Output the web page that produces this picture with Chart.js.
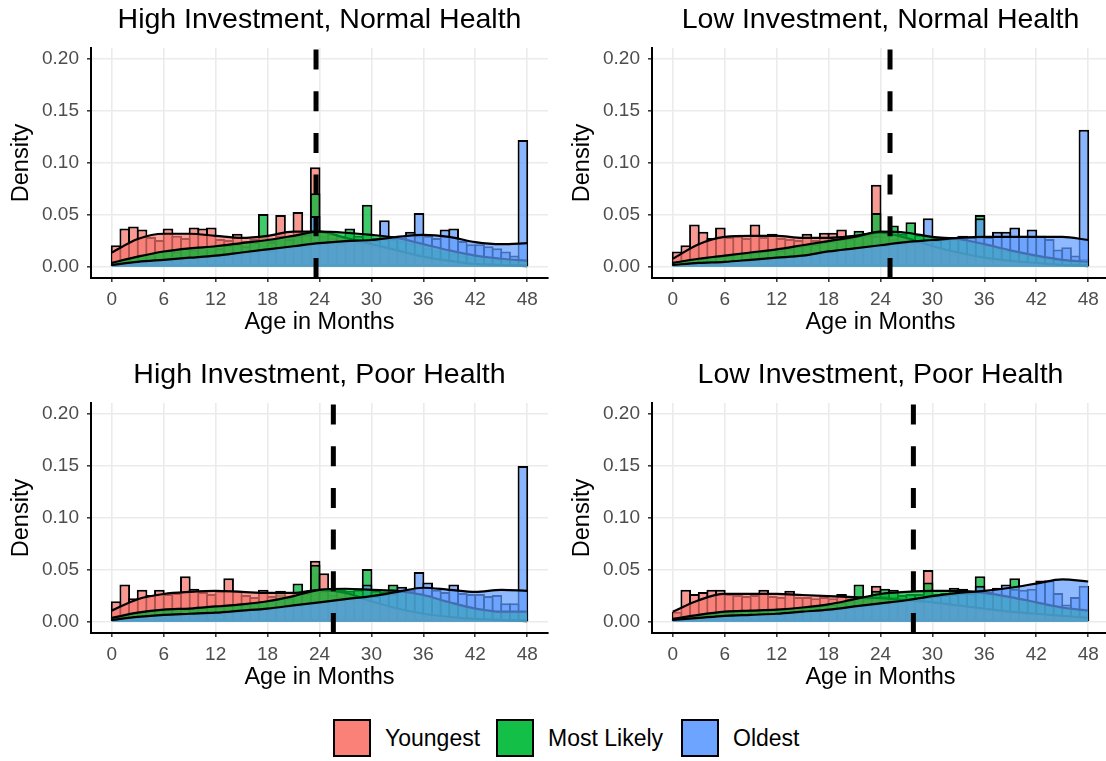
<!DOCTYPE html>
<html>
<head>
<meta charset="utf-8">
<script src="https://cdn.jsdelivr.net/npm/chart.js@4/dist/chart.umd.min.js"></script>
<style>
  html, body { margin:0; padding:0; background:#fff; }
  body { width:1106px; height:761px; overflow:hidden; position:relative;
         font-family:"Liberation Sans", Arial, Helvetica, sans-serif; }
  .panel { position:absolute; width:560px; height:345px; }
  #legend { position:absolute; left:0; top:719px; width:1106px; height:40px; }
  .key { position:absolute; top:0; width:38px; height:38px; box-sizing:border-box; border:2px solid #000; }
  .lab { position:absolute; top:0; height:38px; line-height:38px; font-size:23px; color:#000; white-space:nowrap; }
</style>
</head>
<body>
<canvas id="p1" class="panel" width="560" height="345" style="left:0;top:0"></canvas>
<canvas id="p2" class="panel" width="560" height="345" style="left:561px;top:0"></canvas>
<canvas id="p3" class="panel" width="560" height="345" style="left:0;top:355px"></canvas>
<canvas id="p4" class="panel" width="560" height="345" style="left:561px;top:355px"></canvas>
<div id="legend">
  <div class="key" style="left:333px;background:rgba(248,118,109,0.92)"></div><div class="lab" style="left:385px">Youngest</div>
  <div class="key" style="left:496px;background:rgba(0,186,56,0.92)"></div><div class="lab" style="left:548px">Most Likely</div>
  <div class="key" style="left:681px;background:rgba(97,156,255,0.92)"></div><div class="lab" style="left:733px">Oldest</div>
</div>
<script>
// Age bins (one month wide, lower edges) and density evaluation ages
const binStarts = [0,1,2,3,4,5,6,7,8,9,10,11,12,13,14,15,16,17,18,19,20,21,22,23,
                   24,25,26,27,28,29,30,31,32,33,34,35,36,37,38,39,40,41,42,43,44,45,46,47];
const densityAges = [0,3,6,9,12,15,18,21,24,27,30,33,36,39,42,45,48];
const xTickValues = [0,6,12,18,24,30,36,42,48];
const yTickValues = [0,0.05,0.10,0.15,0.20];
const seriesNames = ['Youngest','Most Likely','Oldest'];
const panelTitles = ['High Investment, Normal Health','Low Investment, Normal Health',
                     'High Investment, Poor Health','Low Investment, Poor Health'];
const markerAges = [23.6, 25.1, 25.6, 27.8];

// High Investment, Normal Health
const hnYoungest = [0.021,0.037,0.039,0.036,0.029,0.026,0.037,0.030,0.028,0.038,0.037,0.038,0.027,0.026,0.032,0.025,
                    0.027,0.030,0.026,0.050,0.030,0.053,0.033,0.096,0.030,0.028,0.024,0.025,0.022,0.020,0.018,0.017,
                    0.014,0.013,0.012,0.014,0.008,0.007,0.006,0.006,0.004,0.003,0.003,0.002,0.002,0.001,0.001,0.004];
const hnMostLikely = [0.004,0.008,0.010,0.012,0.013,0.015,0.016,0.015,0.018,0.017,0.019,0.020,0.018,0.021,0.022,0.020,
                      0.024,0.051,0.024,0.030,0.027,0.030,0.031,0.071,0.034,0.032,0.030,0.037,0.030,0.060,0.028,0.027,
                      0.026,0.025,0.023,0.030,0.018,0.016,0.014,0.013,0.011,0.010,0.008,0.007,0.007,0.006,0.005,0.008];
const hnOldest = [0.002,0.003,0.004,0.005,0.006,0.006,0.007,0.008,0.008,0.009,0.010,0.011,0.011,0.012,0.013,0.014,
                  0.015,0.017,0.016,0.019,0.019,0.021,0.020,0.049,0.023,0.024,0.023,0.025,0.024,0.026,0.026,0.045,
                  0.028,0.030,0.034,0.052,0.030,0.028,0.036,0.037,0.025,0.022,0.022,0.020,0.018,0.015,0.011,0.122];
const hnYoungestDens = [0.014,0.027,0.032,0.032,0.030,0.028,0.030,0.034,0.034,0.028,0.022,0.016,0.010,0.006,0.003,0.002,0.001];
const hnMostLikelyDens = [0.004,0.010,0.015,0.018,0.020,0.023,0.026,0.030,0.034,0.033,0.031,0.028,0.022,0.016,0.011,0.008,0.006];
const hnOldestDens = [0.002,0.005,0.007,0.009,0.011,0.014,0.017,0.020,0.023,0.025,0.026,0.029,0.031,0.029,0.024,0.022,0.023];

// Low Investment, Normal Health
const lnYoungest = [0.015,0.021,0.041,0.034,0.028,0.038,0.029,0.030,0.028,0.041,0.029,0.032,0.028,0.027,0.026,0.032,
                    0.026,0.033,0.033,0.036,0.027,0.030,0.030,0.079,0.030,0.027,0.025,0.022,0.020,0.018,0.016,0.014,
                    0.012,0.011,0.010,0.012,0.007,0.006,0.005,0.005,0.004,0.003,0.003,0.002,0.002,0.001,0.001,0.003];
const lnMostLikely = [0.004,0.006,0.008,0.009,0.010,0.011,0.011,0.013,0.013,0.014,0.015,0.017,0.016,0.018,0.020,0.021,
                      0.022,0.024,0.025,0.027,0.028,0.035,0.031,0.052,0.033,0.040,0.032,0.043,0.031,0.030,0.029,0.028,
                      0.027,0.030,0.025,0.050,0.021,0.018,0.016,0.015,0.013,0.011,0.009,0.008,0.007,0.006,0.005,0.008];
const lnOldest = [0.001,0.002,0.003,0.004,0.004,0.005,0.005,0.006,0.007,0.007,0.008,0.009,0.009,0.010,0.011,0.012,
                  0.013,0.015,0.015,0.017,0.018,0.019,0.020,0.030,0.021,0.023,0.023,0.024,0.025,0.047,0.026,0.027,
                  0.029,0.028,0.029,0.047,0.029,0.034,0.034,0.038,0.030,0.036,0.030,0.027,0.017,0.019,0.011,0.132];
const lnYoungestDens = [0.008,0.022,0.029,0.030,0.030,0.028,0.028,0.030,0.033,0.028,0.020,0.014,0.009,0.006,0.004,0.002,0.001];
const lnMostLikelyDens = [0.004,0.008,0.011,0.014,0.017,0.021,0.025,0.029,0.034,0.033,0.029,0.027,0.022,0.016,0.011,0.007,0.005];
const lnOldestDens = [0.002,0.004,0.005,0.007,0.009,0.011,0.015,0.018,0.021,0.024,0.026,0.028,0.029,0.029,0.029,0.029,0.026];

// High Investment, Poor Health
const hpYoungest = [0.020,0.036,0.023,0.031,0.026,0.031,0.027,0.028,0.044,0.032,0.029,0.027,0.030,0.042,0.030,0.026,
                    0.024,0.031,0.025,0.026,0.024,0.027,0.028,0.059,0.047,0.026,0.024,0.022,0.020,0.018,0.015,0.013,
                    0.011,0.010,0.008,0.009,0.006,0.005,0.004,0.004,0.003,0.003,0.002,0.002,0.001,0.001,0.001,0.003];
const hpMostLikely = [0.004,0.007,0.009,0.010,0.011,0.012,0.012,0.013,0.013,0.013,0.014,0.015,0.015,0.016,0.017,0.017,
                      0.018,0.020,0.021,0.030,0.023,0.037,0.028,0.055,0.030,0.031,0.031,0.030,0.031,0.051,0.030,0.029,
                      0.036,0.030,0.029,0.028,0.026,0.023,0.021,0.019,0.016,0.014,0.013,0.012,0.011,0.010,0.010,0.010];
const hpOldest = [0.001,0.003,0.004,0.005,0.006,0.006,0.007,0.007,0.008,0.008,0.008,0.009,0.009,0.010,0.010,0.011,
                  0.012,0.013,0.013,0.015,0.016,0.016,0.018,0.019,0.020,0.021,0.022,0.023,0.024,0.036,0.025,0.027,
                  0.028,0.034,0.031,0.048,0.038,0.031,0.029,0.036,0.028,0.027,0.027,0.025,0.026,0.018,0.018,0.150];
const hpYoungestDens = [0.011,0.022,0.027,0.029,0.030,0.029,0.028,0.028,0.031,0.028,0.020,0.013,0.008,0.005,0.003,0.002,0.001];
const hpMostLikelyDens = [0.004,0.009,0.012,0.013,0.015,0.017,0.020,0.025,0.031,0.032,0.031,0.030,0.026,0.019,0.013,0.010,0.010];
const hpOldestDens = [0.002,0.005,0.007,0.008,0.009,0.011,0.013,0.016,0.019,0.022,0.025,0.029,0.033,0.031,0.029,0.031,0.030];

// Low Investment, Poor Health
const lpYoungest = [0.010,0.031,0.027,0.029,0.031,0.031,0.027,0.026,0.025,0.026,0.031,0.025,0.024,0.030,0.024,0.024,
                    0.023,0.024,0.023,0.027,0.023,0.024,0.025,0.035,0.025,0.024,0.023,0.022,0.021,0.050,0.019,0.018,
                    0.016,0.015,0.014,0.013,0.012,0.011,0.010,0.010,0.009,0.008,0.008,0.007,0.006,0.005,0.005,0.004];
const lpMostLikely = [0.003,0.005,0.007,0.008,0.009,0.010,0.010,0.011,0.011,0.011,0.012,0.012,0.012,0.013,0.014,0.014,
                      0.015,0.016,0.017,0.019,0.021,0.036,0.023,0.030,0.032,0.031,0.026,0.027,0.027,0.038,0.027,0.028,
                      0.033,0.032,0.028,0.044,0.027,0.026,0.025,0.042,0.022,0.020,0.018,0.016,0.014,0.013,0.012,0.011];
const lpOldest = [0.001,0.003,0.004,0.005,0.005,0.006,0.006,0.007,0.007,0.007,0.008,0.008,0.008,0.009,0.009,0.010,
                  0.011,0.011,0.012,0.013,0.014,0.015,0.016,0.017,0.018,0.019,0.020,0.021,0.022,0.024,0.025,0.026,
                  0.027,0.028,0.028,0.035,0.029,0.033,0.036,0.032,0.031,0.032,0.040,0.040,0.028,0.017,0.024,0.035];
const lpYoungestDens = [0.010,0.021,0.027,0.027,0.027,0.026,0.025,0.024,0.023,0.021,0.019,0.016,0.013,0.010,0.008,0.006,0.004];
const lpMostLikelyDens = [0.003,0.007,0.010,0.011,0.012,0.014,0.017,0.022,0.027,0.029,0.030,0.030,0.028,0.024,0.019,0.014,0.011];
const lpOldestDens = [0.002,0.004,0.006,0.007,0.008,0.010,0.012,0.015,0.018,0.021,0.025,0.028,0.030,0.033,0.037,0.041,0.039];

const Y_MIN = -0.0105, Y_MAX = 0.2105;
const X_MIN = -2.4, X_MAX = 50.4;
const FONT = '"Liberation Sans", Arial, Helvetica, sans-serif';
const baseRGB = ['248,118,109', '0,186,56', '97,156,255'];
const rgba = (k, a) => `rgba(${baseRGB[k]},${a})`;
const HIST_ALPHA = 0.75, DENS_ALPHA = 0.7;

Chart.defaults.font.family = FONT;
Chart.defaults.animation = false;

function histPoints(vals) { return binStarts.map((b, i) => ({ x: b + 0.5, y: vals[i] })); }
function densPoints(vals) { return densityAges.map((a, i) => ({ x: a, y: vals[i] })); }

function buildPanel(id, title, hist, dens, marker) {
  const datasets = [];
  hist.forEach((vals, k) => datasets.push({
    type: 'bar', label: seriesNames[k], data: histPoints(vals),
    backgroundColor: rgba(k, HIST_ALPHA), borderColor: '#000', borderWidth: 2, borderSkipped: false,
    barPercentage: 1.23, categoryPercentage: 1, grouped: false, order: 30 - k
  }));
  dens.forEach((vals, k) => datasets.push({
    type: 'line', label: seriesNames[k] + ' density', data: densPoints(vals),
    borderColor: '#000', borderWidth: 2.2, backgroundColor: rgba(k, DENS_ALPHA), fill: 'origin',
    pointRadius: 0, cubicInterpolationMode: 'monotone', order: 20 - k
  }));
  datasets.push({
    type: 'line', label: 'marker', data: [{ x: marker, y: Y_MIN }, { x: marker, y: Y_MAX }],
    borderColor: '#000', borderWidth: 5, borderDash: [20, 21.7], borderCapStyle: 'butt',
    pointRadius: 0, fill: false, order: 0
  });

  new Chart(document.getElementById(id), {
    type: 'bar',
    data: { datasets },
    options: {
      responsive: false,
      events: [],
      layout: { padding: { left: 0, right: 12, top: 0, bottom: 0 } },
      plugins: {
        legend: { display: false },
        tooltip: { enabled: false },
        title: {
          display: true, text: title, fullSize: false, color: '#000',
          font: { size: 28.5, weight: 'normal', family: FONT },
          padding: { top: 2.9, bottom: 10.9 }
        }
      },
      scales: {
        x: {
          type: 'linear', min: X_MIN, max: X_MAX, offset: false,
          afterBuildTicks: s => { s.ticks = xTickValues.map(v => ({ value: v })); },
          afterFit: s => { s.height = 67; },
          grid: { color: '#EBEBEB', lineWidth: 1.6, drawTicks: true, tickLength: 4, tickColor: '#333', tickWidth: 1.5, offset: false },
          border: { display: true, color: '#000', width: 2 },
          ticks: { color: '#4D4D4D', font: { size: 19 }, padding: 6, maxRotation: 0, autoSkip: false,
                   callback: v => String(v) },
          title: { display: true, text: 'Age in Months', color: '#000', font: { size: 23.5 },
                   padding: { top: 0, bottom: 7.9 } }
        },
        y: {
          type: 'linear', min: Y_MIN, max: Y_MAX,
          afterBuildTicks: s => { s.ticks = yTickValues.map(v => ({ value: v })); },
          afterFit: s => { s.width = 91; },
          grid: { color: '#EBEBEB', lineWidth: 1.6, drawTicks: true, tickLength: 4, tickColor: '#333', tickWidth: 1.5 },
          border: { display: true, color: '#000', width: 2 },
          ticks: { color: '#4D4D4D', font: { size: 19 }, padding: 8, autoSkip: false,
                   callback: v => Number(v).toFixed(2) },
          title: { display: true, text: 'Density', color: '#000', font: { size: 23.5 },
                   padding: { top: 7.9, bottom: 0 } }
        }
      }
    }
  });
}

buildPanel('p1', panelTitles[0], [hnYoungest, hnMostLikely, hnOldest], [hnYoungestDens, hnMostLikelyDens, hnOldestDens], markerAges[0]);
buildPanel('p2', panelTitles[1], [lnYoungest, lnMostLikely, lnOldest], [lnYoungestDens, lnMostLikelyDens, lnOldestDens], markerAges[1]);
buildPanel('p3', panelTitles[2], [hpYoungest, hpMostLikely, hpOldest], [hpYoungestDens, hpMostLikelyDens, hpOldestDens], markerAges[2]);
buildPanel('p4', panelTitles[3], [lpYoungest, lpMostLikely, lpOldest], [lpYoungestDens, lpMostLikelyDens, lpOldestDens], markerAges[3]);
</script>
</body>
</html>
